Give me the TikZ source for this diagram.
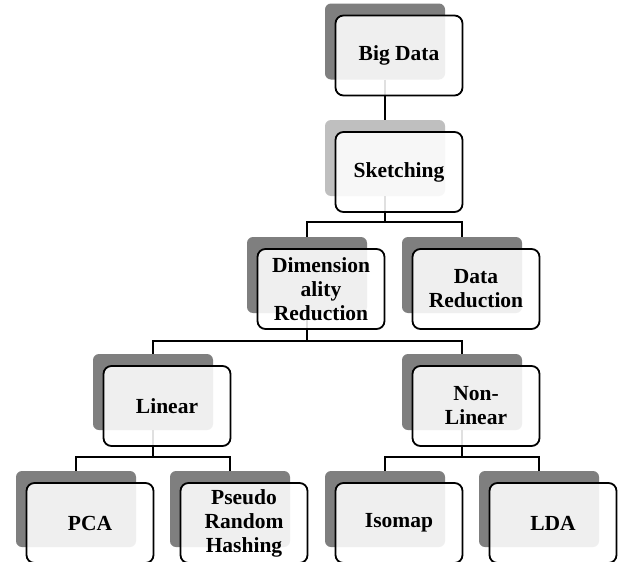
\documentclass[tikz,border=0pt]{standalone}
\usepackage{fontspec}
\setmainfont{Liberation Serif}
\definecolor{shadowdark}{HTML}{7F7F7F}
\definecolor{shadowlight}{HTML}{BFBFBF}
\begin{document}
\begin{tikzpicture}[x=1pt,y=-1pt,
  shadowbox/.style={draw=none, fill=shadowdark, rounded corners=6pt, minimum width=120pt, minimum height=76pt, inner sep=0pt},
  frontbox/.style={draw=black, line width=1.8pt, fill=white, fill opacity=0.88, text opacity=1, rounded corners=8pt, minimum width=127pt, minimum height=80pt, align=center, font=\bfseries\fontsize{21.5}{24}\selectfont, inner sep=0pt},
  conn/.style={draw=black, line width=1.6pt, line join=miter}]
\useasboundingbox (0,0) rectangle (622,562);
\fill[white] (0,0) rectangle (622,562);
% shadows
\node[shadowbox] (bdS) at (385,41.5) {};
\node[shadowbox, fill=shadowlight] (skS) at (385,158) {};
\node[shadowbox] (dimS) at (307,275) {};
\node[shadowbox] (drS) at (462,275) {};
\node[shadowbox] (linS) at (153,392) {};
\node[shadowbox] (nlS) at (462,392) {};
\node[shadowbox] (pcaS) at (76,509) {};
\node[shadowbox] (prhS) at (230,509) {};
\node[shadowbox] (isoS) at (385,509) {};
\node[shadowbox] (ldaS) at (539,509) {};
% connector bar levels
\coordinate (b1) at (0,222);
\coordinate (b2) at (0,341);
\coordinate (b3) at (0,457);
% connectors
\draw[conn] (bdS.south) -- (skS.north);
\draw[conn] (skS.south) -- (skS.south |- b1);
\draw[conn] (dimS.north) -- (dimS.north |- b1) -- (drS.north |- b1) -- (drS.north);
\draw[conn] (dimS.south) -- (dimS.south |- b2);
\draw[conn] (linS.north) -- (linS.north |- b2) -- (nlS.north |- b2) -- (nlS.north);
\draw[conn] (linS.south) -- (linS.south |- b3);
\draw[conn] (pcaS.north) -- (pcaS.north |- b3) -- (prhS.north |- b3) -- (prhS.north);
\draw[conn] (nlS.south) -- (nlS.south |- b3);
\draw[conn] (isoS.north) -- (isoS.north |- b3) -- (ldaS.north |- b3) -- (ldaS.north);
% front boxes
\node[frontbox] (bd) at (399,55.5) {Big Data};
\node[frontbox] (sk) at (399,172) {Sketching};
\node[frontbox] (dim) at (321,289) {Dimension\\ality\\Reduction};
\node[frontbox] (dr) at (476,289) {Data\\Reduction};
\node[frontbox] (lin) at (167,406) {Linear};
\node[frontbox] (nl) at (476,406) {Non-\\Linear};
\node[frontbox] (pca) at (90,523) {PCA};
\node[frontbox] (prh) at (244,523) {Pseudo\\Random\\Hashing};
\node[frontbox] (iso) at (399,523) {Isomap};
\node[frontbox] (lda) at (553,523) {LDA};
\end{tikzpicture}
\end{document}
